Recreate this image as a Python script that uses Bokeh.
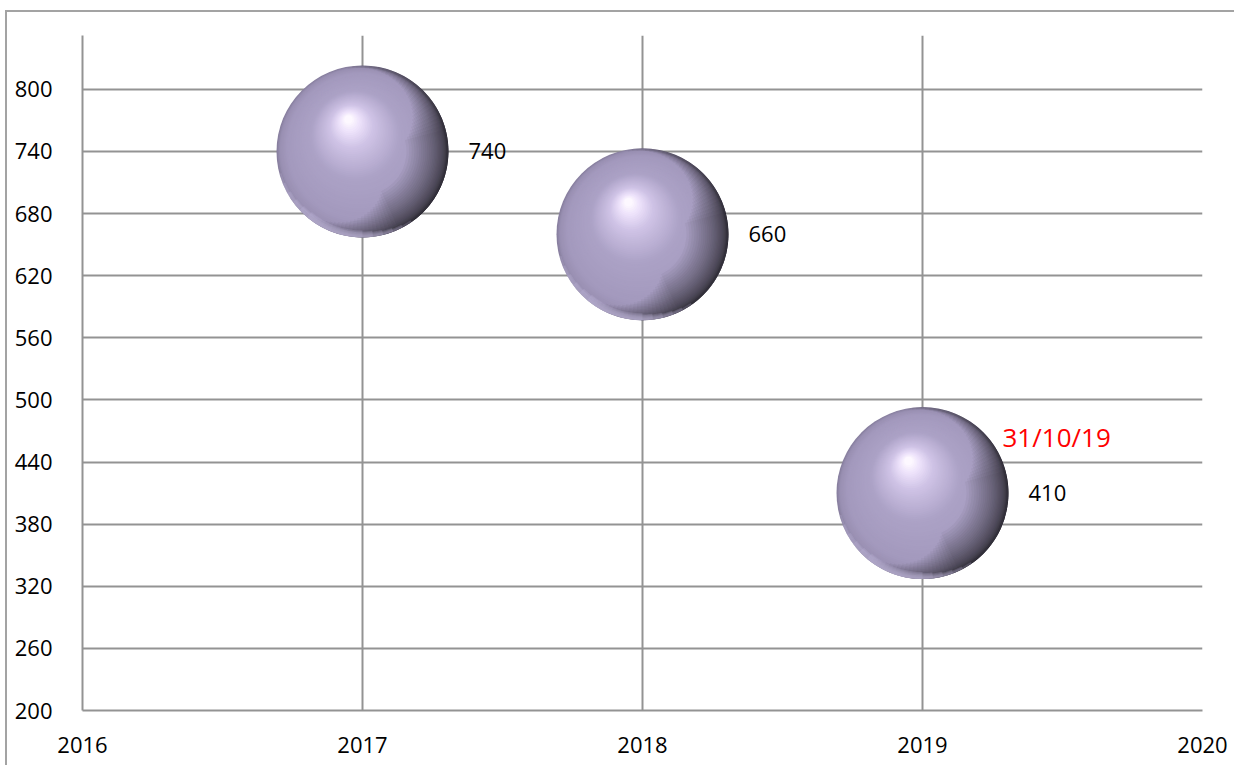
import math
from bokeh.plotting import figure
from bokeh.models import ColumnDataSource, FixedTicker, Range1d
from bokeh.core.properties import value
from bokeh.embed import file_html
from bokeh.resources import INLINE

# ---- data ----
years = [2017, 2018, 2019]
counts = [740, 660, 410]
labels = ["740", "660", "410"]
x_ticks = [2016, 2017, 2018, 2019, 2020]
y_ticks = [200, 260, 320, 380, 440, 500, 560, 620, 680, 740, 800]
note_year = [2019]
note_value = [410]
note_text = ["31/10/19"]

# ---- layout ----
X0, X1 = 2016, 2020
Y0, Y1 = 200, 852
FW, FH = 1120, 675
px_x = FW / (X1 - X0)
px_y = FH / (Y1 - Y0)

p = figure(width=75 + FW + 32, height=23 + FH + 55,
           frame_width=FW, frame_height=FH,
           min_border_left=75, min_border_right=32, min_border_top=23, min_border_bottom=55,
           x_range=Range1d(X0, X1), y_range=Range1d(Y0, Y1),
           output_backend="svg", toolbar_location=None)
p.styles = {"border-left": "2px solid #a3a3a3", "border-top": "2px solid #a3a3a3",
            "margin-left": "5px", "margin-top": "10px"}
p.outline_line_color = None
p.background_fill_color = "white"
p.border_fill_color = "white"

GRID = "#939393"
for ax in (p.xaxis[0], p.yaxis[0]):
    ax.axis_line_color = GRID
    ax.axis_line_width = 2
    ax.major_tick_line_color = None
    ax.minor_tick_line_color = None
    ax.major_label_text_font = "Open Sans"
    ax.major_label_text_font_size = "22px"
    ax.major_label_text_color = "black"
p.xaxis.ticker = FixedTicker(ticks=x_ticks)
p.yaxis.ticker = FixedTicker(ticks=y_ticks)
p.yaxis.major_label_standoff = 24
p.xaxis.major_label_standoff = 20
p.xgrid.grid_line_color = GRID
p.ygrid.grid_line_color = GRID
p.xgrid.grid_line_width = 2
p.ygrid.grid_line_width = 2

# ---- shaded spheres: base + highlight (layered circles) ----
stops = [(0.0, (0x88, 0x7f, 0x9f)), (0.04, (0x99, 0x8f, 0xb2)), (0.15, (0xa3, 0x99, 0xbd)),
         (0.5, (0xac, 0xa2, 0xc6)), (0.78, (0xcf, 0xc3, 0xe6)), (0.92, (0xee, 0xe3, 0xfb)),
         (1.0, (0xfd, 0xf8, 0xff))]

def col(t):
    for (t0, c0), (t1, c1) in zip(stops[:-1], stops[1:]):
        if t0 <= t <= t1:
            f = (t - t0) / (t1 - t0)
            return "#%02x%02x%02x" % tuple(int(round(a + (b - a) * f)) for a, b in zip(c0, c1))
    return "#fdf8ff"

N = 60
D = 172
R = D / 2
xs, ys, sizes, colors = [], [], [], []
for i in range(N):
    t = i / (N - 1)
    r = R - (R - 4) * t
    dx = -14 * t
    dy_up = 32 * t
    for yr, c in zip(years, counts):
        xs.append(yr + dx / px_x)
        ys.append(c + dy_up / px_y)
        sizes.append(2 * r)
        colors.append(col(t))
src = ColumnDataSource(dict(x=xs, y=ys, size=sizes, color=colors))
p.scatter("x", "y", size="size", fill_color="color", line_color=None, source=src)

# ---- shading on the lower right (stacked translucent annular wedges) ----
K = 30
mid = math.radians(-25)
wx, wy, win, wout, wa0, wa1 = [], [], [], [], [], []
for k in range(K):
    f = k / (K - 1)
    w = 2 + 40 * f ** 2
    a = math.radians(125 - 85 * f)
    for yr, c in zip(years, counts):
        wx.append(yr); wy.append(c)
        win.append(R - w); wout.append(R)
        wa0.append(mid - a); wa1.append(mid + a)
wsrc = ColumnDataSource(dict(x=wx, y=wy, inner=win, outer=wout, a0=wa0, a1=wa1))
p.annular_wedge("x", "y", inner_radius="inner", outer_radius="outer",
                inner_radius_units="screen", outer_radius_units="screen",
                start_angle="a0", end_angle="a1", source=wsrc,
                fill_color="#1c1822", fill_alpha=0.04, line_color=None)

# ---- light reflected rim along the bottom ----
M = 6
rx, ry, rin, rout, ra0, ra1 = [], [], [], [], [], []
for k in range(M):
    f = k / (M - 1)
    w = 2 + 5 * f
    a = math.radians(55 - 35 * f)
    for yr, c in zip(years, counts):
        rx.append(yr); ry.append(c)
        rin.append(R - w); rout.append(R)
        ra0.append(math.radians(-110) - a); ra1.append(math.radians(-110) + a)
rsrc = ColumnDataSource(dict(x=rx, y=ry, inner=rin, outer=rout, a0=ra0, a1=ra1))
p.annular_wedge("x", "y", inner_radius="inner", outer_radius="outer",
                inner_radius_units="screen", outer_radius_units="screen",
                start_angle="a0", end_angle="a1", source=rsrc,
                fill_color="#c4bcdf", fill_alpha=0.22, line_color=None)

# ---- labels ----
lab = ColumnDataSource(dict(x=years, y=counts, text=labels))
p.text("x", "y", text="text", source=lab, x_offset=106, text_baseline="middle",
       text_align="left", text_font=value("Open Sans"), text_font_size="22px", text_color="black")
note = ColumnDataSource(dict(x=note_year, y=note_value, text=note_text))
p.text("x", "y", text="text", source=note, x_offset=80, y_offset=-56, text_baseline="middle",
       text_align="left", text_font=value("Open Sans"), text_font_size="26px", text_color="red")

open("out.html", "w").write(file_html(p, INLINE))
